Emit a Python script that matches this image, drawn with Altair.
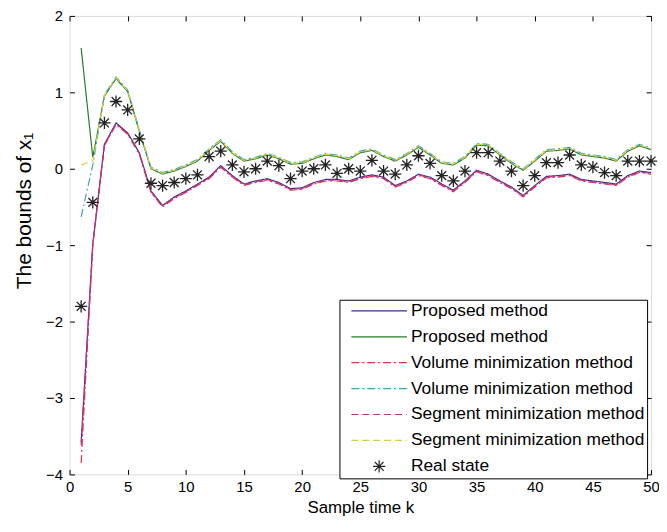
import altair as alt
import pandas as pd

k = list(range(1, 51))

real_state = [-1.80, -0.44, 0.60, 0.88, 0.77, 0.39, -0.19, -0.22, -0.18, -0.13,
              -0.08, 0.16, 0.23, 0.05, -0.04, 0.00, 0.10, 0.04, -0.13, -0.03,
              0.00, 0.05, -0.06, 0.00, -0.03, 0.11, -0.03, -0.07, 0.05, 0.17,
              0.07, -0.09, -0.16, -0.03, 0.21, 0.21, 0.10, -0.03, -0.22, -0.09,
              0.08, 0.08, 0.18, 0.05, 0.02, -0.05, -0.09, 0.10, 0.10, 0.10]

prop_lo = [-3.58, -0.98, 0.32, 0.60, 0.47, 0.21, -0.29, -0.48, -0.37, -0.29,
           -0.20, -0.11, 0.04, -0.09, -0.20, -0.16, -0.13, -0.18, -0.26, -0.25,
           -0.18, -0.14, -0.14, -0.16, -0.11, -0.08, -0.11, -0.22, -0.16, -0.07,
           -0.11, -0.20, -0.28, -0.16, -0.02, -0.07, -0.16, -0.24, -0.35, -0.22,
           -0.10, -0.09, -0.07, -0.14, -0.16, -0.18, -0.20, -0.09, -0.03, -0.05]

prop_up = [1.58, 0.15, 0.95, 1.18, 1.01, 0.49, 0.00, -0.07, -0.03, 0.03,
           0.10, 0.24, 0.36, 0.20, 0.10, 0.13, 0.18, 0.13, 0.06, 0.07,
           0.13, 0.18, 0.16, 0.12, 0.21, 0.24, 0.16, 0.10, 0.18, 0.28,
           0.18, 0.07, 0.05, 0.14, 0.31, 0.30, 0.18, 0.07, -0.02, 0.10,
           0.23, 0.24, 0.26, 0.18, 0.16, 0.14, 0.10, 0.23, 0.30, 0.25]

vol_lo = [-3.85, -1.00, 0.30, 0.58, 0.45, 0.19, -0.31, -0.50, -0.39, -0.31,
          -0.22, -0.13, 0.02, -0.11, -0.22, -0.18, -0.15, -0.20, -0.28, -0.27,
          -0.20, -0.16, -0.16, -0.18, -0.13, -0.10, -0.13, -0.24, -0.18, -0.09,
          -0.13, -0.22, -0.30, -0.18, -0.04, -0.09, -0.18, -0.26, -0.37, -0.24,
          -0.12, -0.11, -0.09, -0.16, -0.18, -0.20, -0.22, -0.11, -0.05, -0.07]

vol_up = [-0.63, 0.05, 0.97, 1.20, 1.03, 0.51, 0.02, -0.05, -0.01, 0.05,
          0.12, 0.26, 0.38, 0.22, 0.12, 0.15, 0.20, 0.15, 0.08, 0.09,
          0.15, 0.20, 0.18, 0.14, 0.23, 0.26, 0.18, 0.12, 0.20, 0.30,
          0.20, 0.09, 0.07, 0.16, 0.33, 0.32, 0.20, 0.09, 0.00, 0.12,
          0.25, 0.26, 0.28, 0.20, 0.18, 0.16, 0.12, 0.25, 0.32, 0.27]

seg_lo = [-3.62, -0.99, 0.31, 0.59, 0.46, 0.20, -0.30, -0.49, -0.38, -0.30,
          -0.21, -0.12, 0.03, -0.10, -0.21, -0.17, -0.14, -0.19, -0.27, -0.26,
          -0.19, -0.15, -0.15, -0.17, -0.12, -0.09, -0.12, -0.23, -0.17, -0.08,
          -0.12, -0.21, -0.29, -0.17, -0.03, -0.08, -0.17, -0.25, -0.36, -0.23,
          -0.11, -0.10, -0.08, -0.15, -0.17, -0.19, -0.21, -0.10, -0.04, -0.06]

seg_up = [0.05, 0.10, 0.96, 1.19, 1.02, 0.50, 0.01, -0.06, -0.02, 0.04,
          0.11, 0.25, 0.37, 0.21, 0.11, 0.14, 0.19, 0.14, 0.07, 0.08,
          0.14, 0.19, 0.17, 0.13, 0.22, 0.25, 0.17, 0.11, 0.19, 0.29,
          0.19, 0.08, 0.06, 0.15, 0.32, 0.31, 0.19, 0.08, -0.01, 0.11,
          0.24, 0.25, 0.27, 0.19, 0.17, 0.15, 0.11, 0.24, 0.31, 0.26]

series_keys = [
    "Proposed method|lo",
    "Proposed method|up",
    "Volume minimization method|lo",
    "Volume minimization method|up",
    "Segment minimization method|lo",
    "Segment minimization method|up",
    "Real state|pt",
]
series_colors = ["#3a2c96", "#2b7a2b", "#e0304c", "#3aa8a8", "#c4307c", "#d8d040", "#222222"]
DASH_DOT = [8, 3, 2, 3]
DASHED = [7, 4]
series_dashes = [[1, 0], [1, 0], DASH_DOT, DASH_DOT, DASHED, DASHED, [1, 0]]
ASTERISK = ("M-0.22,0L0.22,0M0,-0.22L0,0.22"
            "M-0.16,-0.16L0.16,0.16M-0.16,0.16L0.16,-0.16")
series_shapes = ["stroke"] * 6 + [ASTERISK]

line_values = [prop_lo, prop_up, vol_lo, vol_up, seg_lo, seg_up]
rows = []
for key, vals in zip(series_keys[:6], line_values):
    for kk, v in zip(k, vals):
        rows.append({"k": kk, "v": v, "series": key})
line_df = pd.DataFrame(rows)
pt_df = pd.DataFrame({"k": k, "v": real_state, "series": series_keys[6]})

FONT = "Liberation Sans"
xscale = alt.Scale(domain=[0, 50], nice=False, zero=False)
yscale = alt.Scale(domain=[-4, 2], nice=False, zero=False)

legend_spec = alt.Legend(
    title=None, orient="none", legendX=272, legendY=286, direction="vertical",
    labelExpr="split(datum.label, '|')[0]", labelFont=FONT, labelFontSize=17.5,
    labelColor="#000000", labelLimit=400, symbolSize=3136, symbolStrokeWidth=1.2,
    symbolOffset=8.5, labelOffset=3, clipHeight=17.5, rowPadding=7.1, padding=2.5,
    fillColor="white", strokeColor="black",
)

color_enc = alt.Color("series:N", scale=alt.Scale(domain=series_keys, range=series_colors),
                      legend=legend_spec)

x_bottom = alt.Axis(values=list(range(0, 51, 5)), tickSize=5, offset=-5, domain=False,
                    grid=False, labelFontSize=15, labelFont=FONT, labelColor="black",
                    tickColor="black", labelPadding=5, labelFlush=False, labelOverlap=False,
                    title="Sample time k", titleFontSize=17, titleFont=FONT,
                    titleFontWeight="normal", titleColor="black", titleY=43,
                    titleBaseline="alphabetic")
y_left = alt.Axis(values=list(range(-4, 3)), tickSize=5, offset=-5, domain=False,
                  grid=False, labelFontSize=15, labelFont=FONT, labelColor="black",
                  tickColor="black", labelPadding=7, labelFlush=False, labelOverlap=False,
                  title="The bounds of x\u2081", titleFontSize=21, titleFont=FONT,
                  titleFontWeight="normal", titleColor="black", titleAngle=270,
                  titleX=-44, titleY=196, titleBaseline="alphabetic", titleAlign="center")
x_top = alt.Axis(orient="top", values=list(range(0, 51, 5)), tickSize=5, offset=-5,
                 domain=False, grid=False, labels=False, title=None, tickColor="black")
y_right = alt.Axis(orient="right", values=list(range(-4, 3)), tickSize=5, offset=-5,
                   domain=False, grid=False, labels=False, title=None, tickColor="black")

lines = alt.Chart(line_df).mark_line(strokeWidth=1.2, clip=True).encode(
    x=alt.X("k:Q", scale=xscale, axis=x_bottom),
    y=alt.Y("v:Q", scale=yscale, axis=y_left),
    color=color_enc,
    strokeDash=alt.StrokeDash("series:N", scale=alt.Scale(domain=series_keys, range=series_dashes),
                              legend=legend_spec),
)

points = alt.Chart(pt_df).mark_point(filled=False, size=3136, strokeWidth=1.3, opacity=1).encode(
    x=alt.X("k:Q", scale=xscale, axis=None),
    y=alt.Y("v:Q", scale=yscale, axis=None),
    color=color_enc,
    shape=alt.Shape("series:N", scale=alt.Scale(domain=series_keys, range=series_shapes),
                    legend=legend_spec),
)

frame = alt.Chart(pt_df).mark_point(opacity=0).encode(
    x=alt.X("k:Q", scale=xscale, axis=x_top),
    y=alt.Y("v:Q", scale=yscale, axis=y_right),
)

chart = alt.layer(lines, points, frame).resolve_axis(
    x="independent", y="independent"
).properties(
    width=586, height=462,
    autosize=alt.AutoSizeParams(type="none"),
    padding={"left": 62, "top": 6, "right": 8, "bottom": 48},
).configure_view(stroke="black", strokeWidth=1).configure(font=FONT)

chart.save("out.html", embed_options={"renderer": "svg", "actions": False})
